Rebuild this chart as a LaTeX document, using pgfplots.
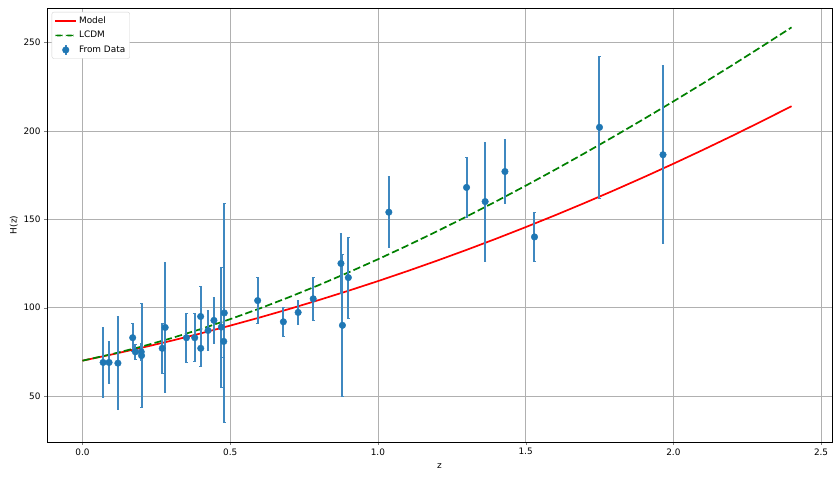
\documentclass[border=0pt]{standalone}
\usepackage{fontspec}
\setmainfont{DejaVu Sans}
\usepackage{pgfplots}
\usepackage{pgfplotstable}
\pgfplotsset{compat=1.18}
\newcommand\f{\fontsize{8.9}{10.5}\selectfont}
\definecolor{tabblue}{HTML}{1F77B4}
\definecolor{barblue}{HTML}{3F88C0}
\definecolor{mplgreen}{rgb}{0,0.5,0}
\definecolor{gridgray}{HTML}{B0B0B0}
\pgfplotsset{
    modellegend/.style={legend image code/.code={
        \draw[red, line width=1.7pt] (0pt,0pt) -- (21pt,0pt);}},
    lcdmlegend/.style={legend image code/.code={
        \pgfsetfillcolor{mplgreen}%
        \pgfpathrectangle{\pgfpoint{0pt}{-0.85pt}}{\pgfpoint{7.4pt}{1.7pt}}%
        \pgfpathrectangle{\pgfpoint{10.6pt}{-0.85pt}}{\pgfpoint{7.4pt}{1.7pt}}%
        \pgfusepath{fill}}},
    datalegend/.style={legend image code/.code={
        \draw[barblue, line width=2pt] (10.5pt,-4.8pt) -- (10.5pt,4.8pt);
        \fill[tabblue] (10.5pt,0pt) circle (3.3pt);}},
}

% cosmic chronometer data: z, H(z), sigma
\pgfplotstableread{
z      H      e
0.07   69     19.6
0.09   69     12
0.12   68.6   26.2
0.17   83     8
0.179  75     4
0.199  75     5
0.20   72.9   29.6
0.27   77     14
0.28   88.8   36.6
0.352  83     14
0.38   83     13.5
0.40   95     17
0.4004 77     10.2
0.425  87.1   11.2
0.445  92.8   12.9
0.47   89     34
0.4783 80.9   9
0.48   97     62
0.593  104    13
0.68   92     8
0.73   97.3   7
0.781  105    12
0.875  125    17
0.88   90     40
0.90   117    23
1.037  154    20
1.30   168    17
1.363  160    33.6
1.43   177    18
1.53   140    14
1.75   202    40
1.965  186.5  50.4
}\hzdata

% model curve
\pgfplotstableread{
z   H
0.0 70.00
0.1 73.54
0.2 77.29
0.3 81.25
0.4 85.43
0.5 89.83
0.6 94.43
0.7 99.25
0.8 104.29
0.9 109.54
1.0 115.00
1.1 120.68
1.2 126.57
1.3 132.67
1.4 138.99
1.5 145.53
1.6 152.27
1.7 159.23
1.8 166.41
1.9 173.80
2.0 181.40
2.1 189.22
2.2 197.25
2.3 205.49
2.4 213.95
}\model

% LCDM curve
\pgfplotstableread{
z   H
0.0 70.00
0.1 73.72
0.2 77.96
0.3 82.68
0.4 87.86
0.5 93.49
0.6 99.53
0.7 105.96
0.8 112.75
0.9 119.89
1.0 127.35
1.1 135.12
1.2 143.18
1.3 151.52
1.4 160.11
1.5 168.96
1.6 178.05
1.7 187.38
1.8 196.93
1.9 206.69
2.0 216.66
2.1 226.84
2.2 237.21
2.3 247.78
2.4 258.53
}\lcdm

\begin{document}
\begin{tikzpicture}
\begin{axis}[
    scale only axis,
    width=785pt, height=434pt,
    xmin=-0.12, xmax=2.537,
    ymin=24, ymax=269.5,
    xtick={0,0.5,1,1.5,2,2.5},
    ytick={50,100,150,200,250},
    xticklabel style={/pgf/number format/.cd, fixed, fixed zerofill, precision=1},
    /pgf/number format/assume math mode=true,
    tick label style={font=\f},
    label style={font=\f},
    xlabel={z}, ylabel={H(z)},
    xlabel style={yshift=-2pt},
    ylabel style={yshift=-1pt},
    grid=major,
    major grid style={gridgray, line width=0.7pt},
    axis line style={line width=0.7pt},
    tick pos=left,
    tick align=outside,
    major tick length=2.9pt,
    legend cell align=left,
    legend style={font=\f, at={(0.006,0.991)}, anchor=north west,
        draw=gray!35, rounded corners=2pt, fill=white,
        inner sep=2.5pt, row sep=2.5pt},
]
\addplot[red, line width=1.7pt, modellegend] table[x=z, y=H] {\model};
\addlegendentry{Model}
\addplot[mplgreen, line width=1.7pt, dash pattern=on 7.4pt off 3.2pt, lcdmlegend]
    table[x=z, y=H] {\lcdm};
\addlegendentry{LCDM}
\addplot[only marks, mark=*, mark size=3.3pt,
    mark options={draw=tabblue, fill=tabblue},
    datalegend,
    error bars/.cd, y dir=both, y explicit,
    error bar style={line width=2pt, draw=barblue},
    error mark options={rotate=90, mark size=1.3pt, line width=0.8pt, draw=barblue},
    ] table[x=z, y=H, y error=e] {\hzdata};
\addlegendentry{From Data}
\end{axis}
\path (current axis.south west) ++(-47pt,-38pt) rectangle ++(837pt,480pt);
\end{tikzpicture}
\end{document}
